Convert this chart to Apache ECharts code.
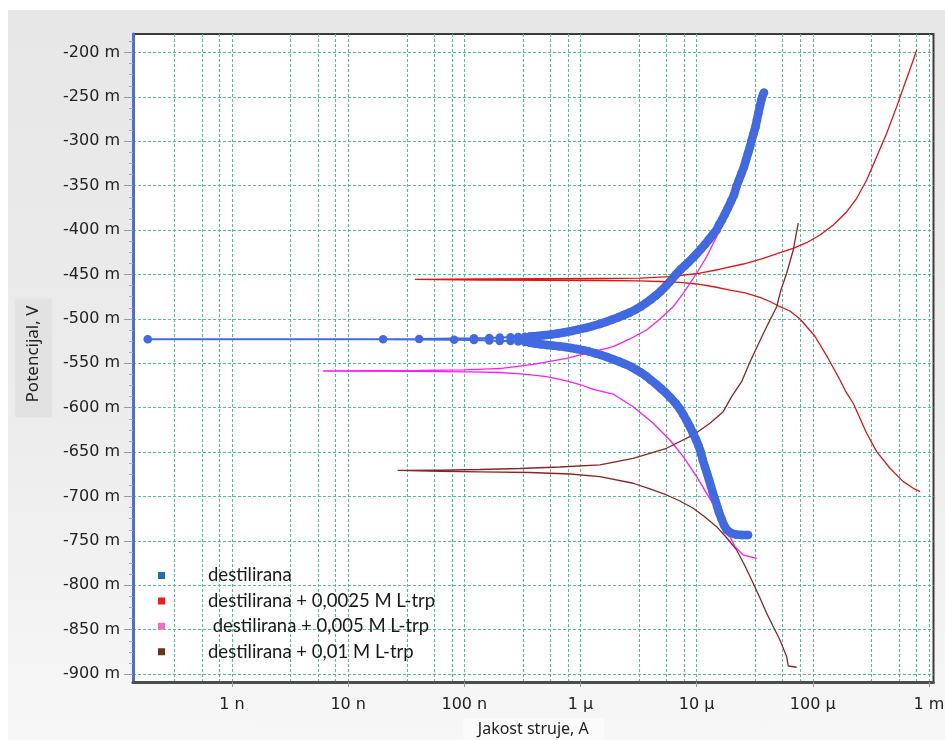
<!DOCTYPE html>
<html><head><meta charset="utf-8">
<script src="https://cdn.jsdelivr.net/npm/echarts@6.0.0/dist/echarts.min.js"></script>
<style>
html,body{margin:0;padding:0;background:#fff;width:945px;height:740px;overflow:hidden}
#chart{position:absolute;left:8px;top:10px;width:937px;height:730px;background:linear-gradient(to bottom,#e7e7e7 0%,#ececec 55%,#f7f7f7 100%);}
</style></head><body><div id="chart"></div>
<script>
// ---- data (current in A, potential in mV) ----
const seriesNames = ['destilirana', 'destilirana + 0,0025 M L-trp', ' destilirana + 0,005 M L-trp', 'destilirana + 0,01 M L-trp'];

const destCurrent = [
  2.77e-5,2.46e-5,2.18e-5,1.97e-5,1.82e-5,1.72e-5,1.64e-5,1.56e-5,1.50e-5,1.44e-5,1.38e-5,1.33e-5,1.28e-5,1.23e-5,1.18e-5,1.13e-5,1.09e-5,1.04e-5,9.86e-6,9.29e-6,8.76e-6,8.25e-6,7.70e-6,7.18e-6,6.63e-6,6.00e-6,5.44e-6,4.93e-6,4.46e-6,4.04e-6,3.66e-6,3.31e-6,3.00e-6,2.72e-6,2.41e-6,2.14e-6,1.90e-6,1.69e-6,1.50e-6,1.33e-6,1.18e-6,1.05e-6,9.31e-7,8.27e-7,7.34e-7,6.51e-7,5.78e-7,5.14e-7,4.56e-7,4.05e-7,3.66e-7,
  3.32e-7,2.91e-7,2.50e-7,2.02e-7,1.64e-7,1.21e-7,8.17e-8,2.00e-8,1.88e-10,4.08e-8,1.21e-7,1.64e-7,2.02e-7,2.50e-7,2.91e-7,3.32e-7,
  3.66e-7,4.21e-7,4.84e-7,5.56e-7,6.39e-7,7.34e-7,8.43e-7,9.69e-7,1.11e-6,1.28e-6,1.47e-6,1.65e-6,1.86e-6,2.10e-6,2.36e-6,2.66e-6,3.00e-6,3.31e-6,3.66e-6,4.04e-6,4.46e-6,4.93e-6,5.44e-6,6.00e-6,6.63e-6,7.32e-6,7.93e-6,8.58e-6,9.29e-6,1.006e-5,1.089e-5,1.179e-5,1.276e-5,1.382e-5,1.486e-5,1.556e-5,1.652e-5,1.753e-5,1.860e-5,1.974e-5,2.096e-5,2.21e-5,2.313e-5,2.43e-5,2.555e-5,2.66e-5,2.766e-5,2.878e-5,2.965e-5,3.085e-5,3.21e-5,3.305e-5,3.405e-5,3.51e-5,3.615e-5,3.72e-5,3.80e-5
];
const destPotential = [
  -743.3,-743.3,-742.8,-741.1,-737.7,-732.1,-725.3,-718.0,-710.7,-703.4,-696.1,-688.7,-681.4,-674.1,-666.8,-658.9,-651.0,-643.1,-635.8,-628.5,-621.7,-615.0,-608.2,-601.5,-595.3,-589.1,-583.4,-578.4,-573.3,-568.8,-564.3,-560.4,-557.0,-553.9,-550.8,-548.0,-545.4,-542.9,-540.7,-538.6,-536.7,-535.2,-533.9,-532.8,-531.6,-530.9,-530.1,-529.4,-528.6,-527.7,-526.9,
  -526.0,-525.4,-524.9,-524.9,-524.3,-523.8,-523.4,-523.0,-523.0,-522.6,-521.8,-521.5,-520.9,-520.6,-520.4,-520.2,
  -519.8,-519.3,-518.5,-517.6,-516.4,-515.1,-513.6,-511.9,-510.2,-508.0,-505.7,-503.5,-501.0,-498.4,-495.6,-492.8,-489.4,-486.0,-482.1,-478.1,-473.6,-468.6,-462.9,-456.8,-450.0,-444.0,-439.9,-435.7,-431.2,-426.4,-421.3,-416.2,-410.6,-405.0,-399.9,-394.3,-388.6,-381.9,-375.1,-367.8,-360.5,-350.3,-343.6,-336.3,-328.9,-321.1,-313.7,-306.4,-299.7,-291.8,-283.9,-276.0,-268.1,-260.3,-252.9,-247.9,-245.3
];
// index ranges of the dense (Tafel) branches of the first curve
const destCathodicEnd = 51;   // points 0..50
const destAnodicStart = 67;   // points 67..end

const trp0025Current = [8.38e-4,7.34e-4,6.02e-4,4.62e-4,3.55e-4,2.91e-4,2.23e-4,1.93e-4,1.715e-4,1.35e-4,1.04e-4,7.76e-5,6.36e-5,5.22e-5,4.28e-5,3.51e-5,2.61e-5,1.94e-5,1.438e-5,1.00e-5,7.18e-6,4.83e-6,3.25e-6,1.47e-6,4.47e-7,1.36e-7,3.75e-8,1.36e-7,4.47e-7,1.47e-6,3.25e-6,5.89e-6,1.068e-5,1.587e-5,2.52e-5,3.75e-5,5.22e-5,6.79e-5,8.86e-5,1.153e-4,1.502e-4,1.96e-4,2.39e-4,2.91e-4,3.55e-4,4.33e-4,5.28e-4,6.22e-4,7.34e-4,7.85e-4];
const trp0025Potential = [-694.6,-690.8,-683.3,-668.2,-649.5,-628.8,-595.0,-582.3,-568.8,-544.0,-519.3,-500.1,-491.1,-486.3,-480.4,-475.7,-470.8,-467.5,-464.1,-460.7,-459.0,-457.9,-457.3,-456.8,-456.5,-456.2,-455.6,-455.1,-454.8,-454.5,-454.2,-452.5,-448.6,-444.1,-438.2,-431.8,-425.4,-420.5,-414.2,-405.5,-394.3,-379.3,-364.2,-343.6,-317.3,-291.0,-261.0,-234.7,-208.4,-197.2];

const trp005Current = [3.29e-5,2.52e-5,2.14e-5,1.81e-5,1.486e-5,1.22e-5,1.00e-5,7.67e-6,5.89e-6,4.23e-6,2.84e-6,1.91e-6,1.29e-6,9.88e-7,7.59e-7,5.11e-7,3.43e-7,2.63e-7,2.02e-7,1.115e-7,4.14e-8,6.08e-9,4.14e-8,9.76e-8,1.66e-7,2.02e-7,3.91e-7,7.59e-7,1.29e-6,1.91e-6,2.66e-6,3.71e-6,4.83e-6,6.29e-6,7.67e-6,1.00e-5,1.22e-5,1.486e-5,1.81e-5,2.21e-5,2.61e-5,2.975e-5,3.29e-5,3.51e-5];
const trp005Potential = [-769.6,-765.9,-756.5,-737.7,-715.2,-696.4,-677.7,-655.2,-636.4,-617.6,-598.9,-584.6,-579.5,-573.9,-569.9,-565.1,-562.6,-561.3,-560.4,-559.6,-559.2,-558.7,-558.1,-557.5,-556.2,-555.9,-551.3,-544.4,-536.9,-531.3,-522.6,-512.5,-500.1,-486.3,-471.2,-448.6,-430.0,-407.4,-381.1,-351.1,-324.8,-302.2,-283.6,-268.5];

const trp001Current = [7.27e-5,6.15e-5,5.96e-5,5.22e-5,4.54e-5,4.01e-5,3.51e-5,3.07e-5,2.61e-5,2.21e-5,1.79e-5,1.486e-5,1.179e-5,9.35e-6,7.18e-6,5.51e-6,3.96e-6,2.84e-6,1.47e-6,8.10e-7,3.66e-7,1.36e-7,6.15e-8,2.67e-8,6.15e-8,1.36e-7,3.01e-7,6.64e-7,1.47e-6,2.84e-6,5.51e-6,9.35e-6,1.302e-5,1.695e-5,2.00e-5,2.44e-5,2.88e-5,3.37e-5,3.88e-5,4.37e-5,4.89e-5,5.32e-5,5.96e-5,6.79e-5,7.50e-5];
const trp001Potential = [-892.3,-890.9,-880.4,-861.6,-845.8,-831.5,-814.3,-797.7,-778.3,-760.2,-745.6,-734.0,-723.1,-713.3,-705.1,-698.3,-691.5,-685.1,-677.7,-674.7,-673.0,-672.2,-671.6,-670.7,-670.2,-669.6,-668.5,-666.8,-664.5,-657.0,-645.7,-630.7,-617.6,-604.5,-587.6,-570.7,-548.5,-529.4,-512.5,-499.0,-486.3,-467.5,-448.6,-422.4,-392.3];

// ---- axes ----
const xTickValues = [1e-9, 1e-8, 1e-7, 1e-6, 1e-5, 1e-4, 1e-3];
const xTickLabels = ['1 n', '10 n', '100 n', '1 μ', '10 μ', '100 μ', '1 m'];
const xDecades = [1e-10, 1e-9, 1e-8, 1e-7, 1e-6, 1e-5, 1e-4];
const xMinorMultipliers = [3.2, 5.5, 7.8];
const yTickValues = [-900,-850,-800,-750,-700,-650,-600,-550,-500,-450,-400,-350,-300,-250,-200];
const yTickLabels = ['-900 m','-850 m','-800 m','-750 m','-700 m','-650 m','-600 m','-550 m','-500 m','-450 m','-400 m','-350 m','-300 m','-250 m','-200 m'];

const zip = (a, b) => a.map((v, i) => [v, b[i]]);
const xMinorGrid = [];
xDecades.forEach(d => xMinorMultipliers.forEach(m => xMinorGrid.push(m * d)));

const destPairs = zip(destCurrent, destPotential);
const destBand = destPairs.slice(0, destCathodicEnd).concat([['-', '-']], destPairs.slice(destAnodicStart));

const X_MIN = 1.404e-10, X_MAX = 1.095e-3;
const GRID = '#52c198';
const fmtX = v => { const i = xTickValues.findIndex(t => Math.abs(Math.log10(v) - Math.log10(t)) < 1e-6); return i >= 0 ? xTickLabels[i] : ''; };
const fmtY = v => { const i = yTickValues.findIndex(t => Math.abs(v - t) < 1e-6); return i >= 0 ? yTickLabels[i] : ''; };
const ICON = 'path://M0,0L7,0L7,7L0,7Z M45,3.5L45,3.6';
const BLUE = '#4169e1';

const chart = echarts.init(document.getElementById('chart'), null, {renderer: 'canvas'});
chart.setOption({
  animation: false,
  backgroundColor: 'transparent',
  grid: {left: 125, top: 24, right: 11.5, bottom: 58, show: true, backgroundColor: '#ffffff', borderColor: '#3a3a3a', borderWidth: 2, containLabel: false, outerBoundsMode: 'none'},
  legend: {
    orient: 'vertical', left: 150, top: 556, padding: 0,
    itemWidth: 45, itemHeight: 7, itemGap: 6.4, icon: ICON, selectedMode: false,
    textStyle: {fontFamily: 'Lato', fontSize: 18.5, lineHeight: 18, color: '#1a1a1a'},
    data: [
      {name: seriesNames[0], itemStyle: {color: '#1f6db5'}},
      {name: seriesNames[1], itemStyle: {color: '#f21c1c'}},
      {name: seriesNames[2], itemStyle: {color: '#f46cc8'}},
      {name: seriesNames[3], itemStyle: {color: '#6a3312'}}
    ]
  },
  xAxis: [{
    type: 'log', logBase: 10, min: X_MIN, max: X_MAX,
    name: 'Jakost struje, A', nameLocation: 'middle', nameGap: 31,
    nameTextStyle: {fontFamily: 'Noto Sans', fontSize: 16, color: '#222', backgroundColor: '#fbfbfb', padding: [4, 15, 8, 15]},
    axisLine: {show: true, onZero: false, lineStyle: {color: '#4d4d4d', width: 3}},
    axisTick: {show: true, length: 5, customValues: xTickValues, lineStyle: {color: '#9a9a9a'}},
    axisLabel: {customValues: xTickValues, formatter: fmtX, margin: 15, fontFamily: 'DejaVu Sans', fontSize: 16, color: '#222'},
    splitLine: {show: true, lineStyle: {color: GRID, type: [3, 2], width: 1}},
    minorTick: {show: false}, minorSplitLine: {show: false}
  }, {
    type: 'log', logBase: 10, min: X_MIN, max: X_MAX, position: 'bottom', z: 0,
    axisLine: {show: false},
    axisTick: {show: false, customValues: xMinorGrid},
    axisLabel: {show: false, customValues: xMinorGrid},
    splitLine: {show: true, lineStyle: {color: GRID, type: [3, 2], width: 1}}
  }],
  yAxis: {
    type: 'value', min: -908.9, max: -179.2, splitNumber: 14,
    name: 'Potencijal, V', nameLocation: 'middle', nameGap: 80, nameRotate: 90,
    nameTextStyle: {fontFamily: 'Noto Sans', fontSize: 17, color: '#222', backgroundColor: '#e2e2e2', padding: [10, 7, 10, 15]},
    axisLine: {show: true, onZero: false, lineStyle: {color: '#4a6ee0', width: 3}},
    axisTick: {show: true, length: 9, customValues: yTickValues, lineStyle: {color: '#9a9a9a'}},
    minorTick: {show: true, splitNumber: 4, length: 4, lineStyle: {color: '#aaaaaa'}},
    axisLabel: {customValues: yTickValues, formatter: fmtY, margin: 13, fontFamily: 'DejaVu Sans', fontSize: 16, color: '#222'},
    splitLine: {show: true, lineStyle: {color: GRID, type: [3, 2], width: 1}}
  },
  series: [
    {name: seriesNames[0], type: 'line', data: destBand, showSymbol: false, connectNulls: false,
      itemStyle: {color: BLUE}, lineStyle: {color: BLUE, width: 8.5, cap: 'round', join: 'round'}, z: 3, silent: true},
    {name: seriesNames[0], type: 'line', data: destPairs, symbol: 'circle', symbolSize: 8.5, showSymbol: true,
      itemStyle: {color: BLUE}, lineStyle: {color: BLUE, width: 2}, z: 3, silent: true},
    {name: seriesNames[1], type: 'line', data: zip(trp0025Current, trp0025Potential), showSymbol: false,
      itemStyle: {color: '#e31414'}, lineStyle: {color: '#e31414', width: 1.3}, z: 3, silent: true},
    {name: seriesNames[2], type: 'line', data: zip(trp005Current, trp005Potential), showSymbol: false,
      itemStyle: {color: '#ff1aff'}, lineStyle: {color: '#ff1aff', width: 1.3}, z: 3, silent: true},
    {name: seriesNames[3], type: 'line', data: zip(trp001Current, trp001Potential), showSymbol: false,
      itemStyle: {color: '#8b2525'}, lineStyle: {color: '#8b2525', width: 1.3}, z: 3, silent: true}
  ]
});
</script></body></html>
